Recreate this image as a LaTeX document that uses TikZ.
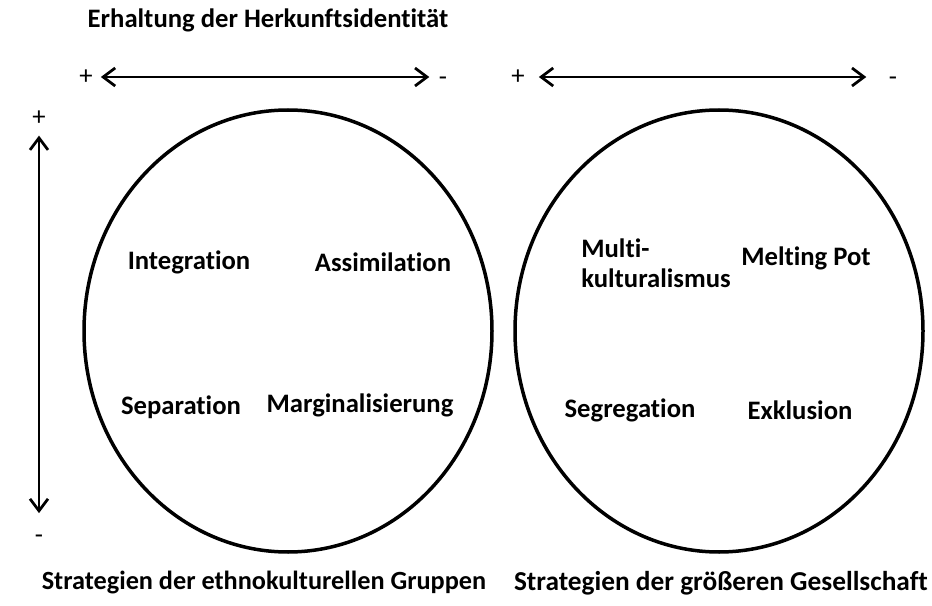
\documentclass[tikz,border=0pt]{standalone}
\usepackage{fontspec}
\setmainfont{Carlito}[Ligatures=NoCommon]
\usetikzlibrary{arrows.meta,shapes.geometric}

\newlength{\du}
\setlength{\du}{0.75pt}

\tikzset{
  kreis/.style={draw, ellipse, line width=3.5\du, minimum width=408\du, minimum height=442\du, inner sep=0pt},
  strat/.style={font=\bfseries\fontsize{20}{22.5}\selectfont, inner sep=0pt, align=left},
  zeichen/.style={font=\fontsize{20}{22.5}\selectfont, inner sep=0pt},
  achse/.style={{Straight Barb[length=9pt,width=13.5pt]}-{Straight Barb[length=9pt,width=13.5pt]}, line width=2.75\du},
}

\begin{document}
\begin{tikzpicture}
\pgftransformxscale{1.000000}
\pgftransformyscale{-1.000000}
\useasboundingbox (0\du,0\du) rectangle (932\du,606\du);
% setfont left to latex
\node[strat] (titel) at (268\du,20\du) {Erhaltung der Herkunftsidentität};
% horizontal axes
\node[zeichen] (plusA) at (86\du,77\du) {+};
\node[zeichen] (minusA) at (443\du,81\du) {-};
\node[zeichen] (plusB) at (518\du,77\du) {+};
\node[zeichen] (minusB) at (893\du,81\du) {-};
\draw[achse, shorten <=6pt, shorten >=7pt] (plusA) -- (minusA.west |- plusA);
\draw[achse, shorten <=10.5pt, shorten >=16.75pt] (plusB) -- (minusB.west |- plusB);
% vertical axis
\node[zeichen] (plusV) at (39\du,118\du) {+};
\node[zeichen] (minusV) at (39\du,539\du) {-};
\draw[achse, shorten <=7.5pt, shorten >=16pt] (plusV) -- (minusV);
% circles
\node[kreis] (links) at (288\du,331\du) {};
\node[kreis] (rechts) at (719\du,331\du) {};
% setfont left to latex
\node[strat] (integ) at (189\du,262\du) {Integration};
\node[strat] (assim) at (383\du,262\du) {Assimilation};
\node[strat] (separ) at (181\du,407\du) {Separation};
\node[strat] (margi) at (360\du,405\du) {Marginalisierung};
\node[strat] (multi) at (656\du,263\du) {Multi-\\kulturalismus};
\node[strat] (melt) at (806\du,258\du) {Melting Pot};
\node[strat] (segr) at (630\du,410\du) {Segregation};
\node[strat] (exkl) at (800\du,410\du) {Exklusion};
% setfont left to latex
\node[strat, font=\bfseries\fontsize{19.7}{22.5}\selectfont] (ethno) at (264\du,583\du) {Strategien der ethnokulturellen Gruppen};
\node[strat, font=\bfseries\fontsize{20.5}{22.5}\selectfont] (gesell) at (721\du,583\du) {Strategien der größeren Gesellschaft};
\end{tikzpicture}
\end{document}
